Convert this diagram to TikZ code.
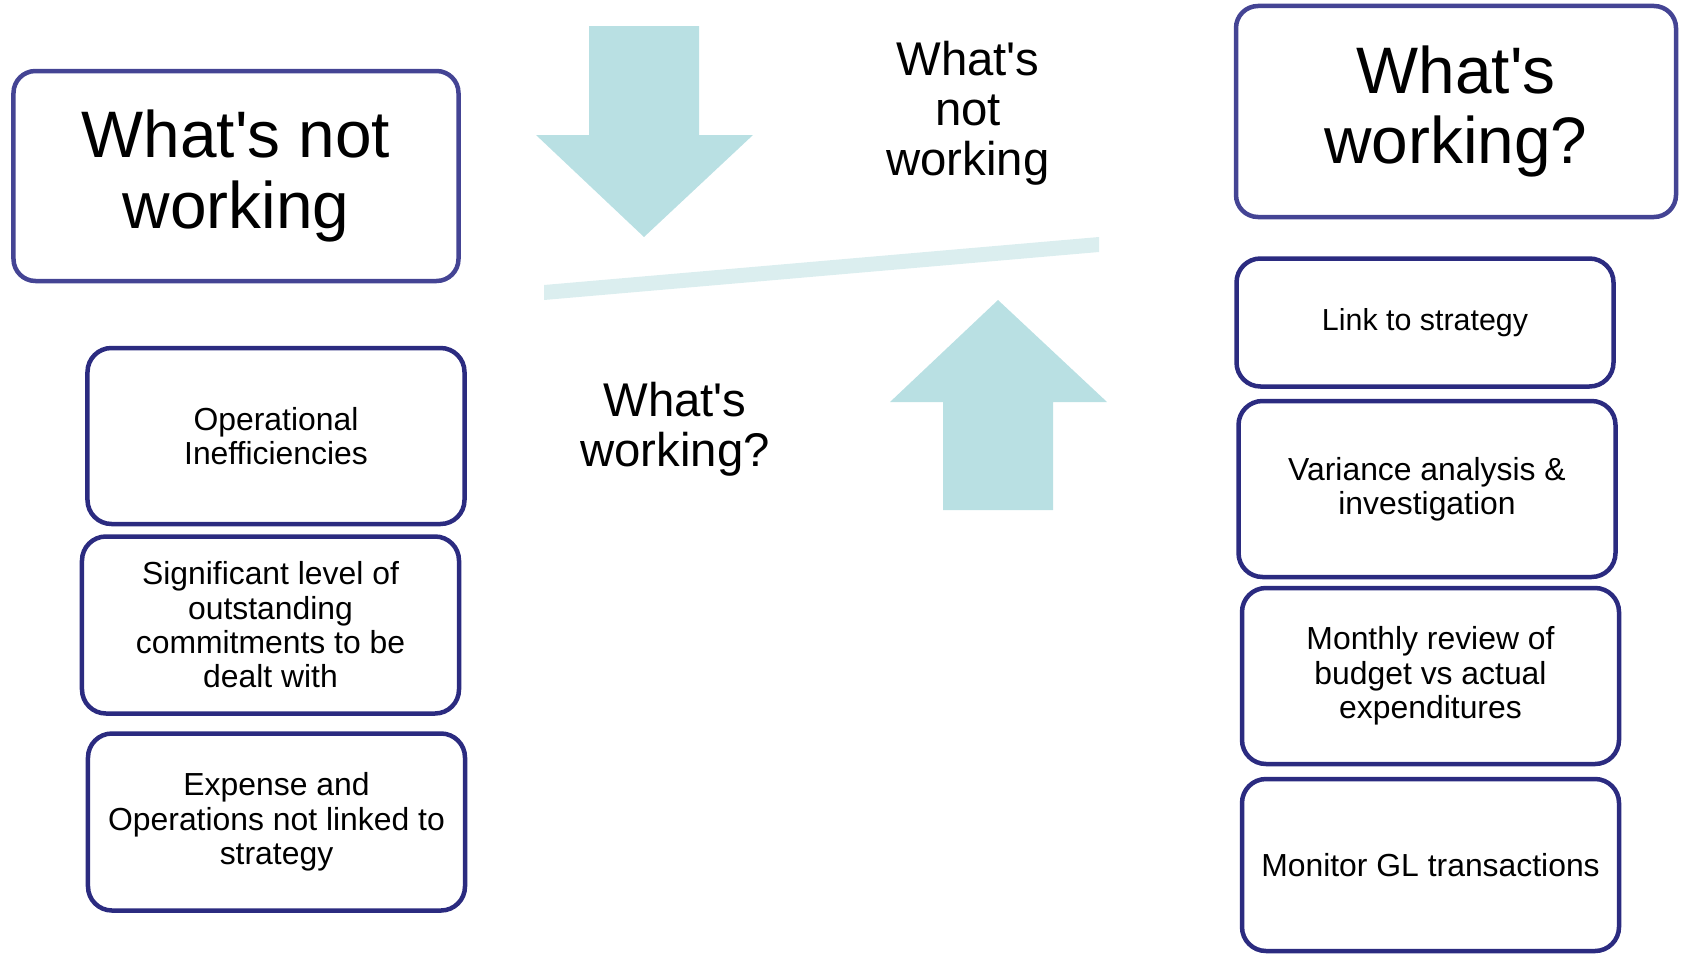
\documentclass[tikz,border=0pt]{standalone}
\usepackage{fontspec}
\setmainfont{Liberation Sans}
\usetikzlibrary{positioning}
\definecolor{headblue}{RGB}{68,68,148}
\definecolor{itemblue}{RGB}{43,43,128}
\definecolor{arrowcyan}{RGB}{185,224,227}
\definecolor{barcyan}{RGB}{219,238,239}
\newcommand{\qs}{\textquotesingle}

\begin{document}
\begin{tikzpicture}[%
  x=1bp,y=-1bp,
  headbox/.style={rectangle,draw=headblue,line width=4.5bp,rounded corners=22bp,
    align=center,inner sep=0pt,font=\fontsize{66}{71}\selectfont},
  itembox/.style={rectangle,draw=itemblue,line width=4.5bp,rounded corners=24bp,
    align=center,inner sep=0pt,minimum width=377bp,minimum height=176bp,
    font=\fontsize{32}{34.5}\selectfont},
  midtext/.style={align=center,inner sep=0pt,font=\fontsize{47.5}{50}\selectfont},
  bigarrow/.style={fill=arrowcyan,draw=none}]
    \useasboundingbox (0,0) rectangle (1681,954);
    % Seesaw
    \fill[bigarrow] (589,26) -- (699,26) -- (699,135) -- (753,135) -- (644,237)
      -- (536,135) -- (589,135) -- cycle;
    \fill[bigarrow] (943,510) -- (1053,510) -- (1053,402) -- (1107,402) -- (998,300)
      -- (890,402) -- (943,402) -- cycle;
    \fill[barcyan] (544,285) -- (544,300) -- (1099,252) -- (1099,237) -- cycle;
    \node[midtext] (notlbl) at (968,113) {What\qs s\\not\\working};
    \node[midtext] (worklbl) at (675,429) {What\qs s\\working?};
    % Heads
    \node[headbox,minimum width=445bp,minimum height=210bp] (nothead) at (236,176)
      {What\qs s not\\working};
    \node[headbox,minimum width=440bp,minimum height=211bp] (workhead) at (1456,111.5)
      {What\qs s\\working?};
    % Left column
    \node[itembox] (ineff) at (276,436) {Operational\\Inefficiencies};
    \node[itembox,minimum height=177bp] (commit) at (270.5,625)
      {Significant level of\\outstanding\\commitments to be\\dealt with};
    \node[itembox,minimum height=177bp] (expense) at (276.5,822)
      {Expense and\\Operations not linked to\\strategy};
    % Right column
    \node[itembox,minimum height=128bp,font=\fontsize{30.5}{34}\selectfont] (link) at (1425,322.5)
      {Link to strategy};
    \node[itembox] (variance) at (1427,489) {Variance analysis \&\\investigation};
    \node[itembox] (monthly) at (1430.5,676)
      {Monthly review of\\budget vs actual\\expenditures};
    \node[itembox,minimum height=172bp] (gl) at (1430.5,865) {Monitor GL transactions};
\end{tikzpicture}
\end{document}
